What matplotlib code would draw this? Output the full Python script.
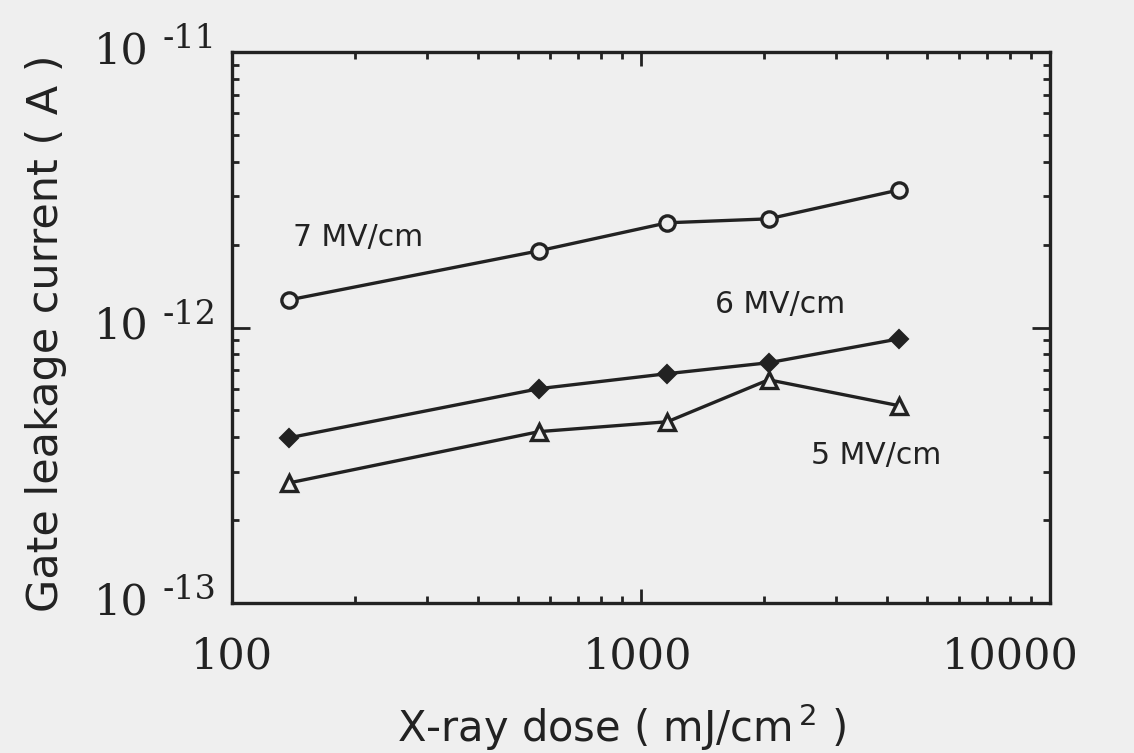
import matplotlib
matplotlib.use('Agg')
import matplotlib.pyplot as plt
import matplotlib.transforms as mtransforms
from matplotlib.ticker import LogLocator, NullFormatter


# values
dose = [138, 564, 1160, 2050, 4280]
i_7mv = [1.26e-12, 1.90e-12, 2.40e-12, 2.48e-12, 3.16e-12]
i_6mv = [3.98e-13, 6.0e-13, 6.8e-13, 7.45e-13, 9.1e-13]
i_5mv = [2.73e-13, 4.19e-13, 4.55e-13, 6.46e-13, 5.20e-13]

x_ticks = [100, 1000, 10000]
x_tick_labels = ['100', '1000', '10000']
y_ticks = [1e-11, 1e-12, 1e-13]
y_exponents = ['-11', '-12', '-13']

BG = '#efefef'
INK = '#222222'

fig = plt.figure(figsize=(11.34, 7.53), dpi=100, facecolor=BG)
ax = fig.add_axes([0.2046, 0.1992, 0.7214, 0.7317], facecolor=BG)

ax.plot(dose, i_7mv, '-o', color=INK, lw=2.4, ms=11, mfc=BG, mew=2.4)
ax.plot(dose, i_6mv, '-D', color=INK, lw=2.4, ms=9.5, mfc=INK, mew=1.5)
ax.plot(dose, i_5mv, '-^', color=INK, lw=2.4, ms=11.5, mfc=BG, mew=2.4)

ax.set_xscale('log')
ax.set_yscale('log')
ax.set_xlim(100, 10000)
ax.set_ylim(1e-13, 1e-11)

for s in ax.spines.values():
    s.set_linewidth(2.4)
    s.set_color(INK)

ax.xaxis.set_major_locator(LogLocator(base=10))
ax.xaxis.set_minor_locator(LogLocator(base=10, subs=range(2, 10)))
ax.yaxis.set_major_locator(LogLocator(base=10))
ax.yaxis.set_minor_locator(LogLocator(base=10, subs=range(2, 10)))
ax.xaxis.set_major_formatter(NullFormatter())
ax.xaxis.set_minor_formatter(NullFormatter())
ax.yaxis.set_major_formatter(NullFormatter())
ax.yaxis.set_minor_formatter(NullFormatter())

ax.tick_params(which='both', direction='in', top=True, right=True, color=INK, width=2)
ax.tick_params(axis='x', which='major', length=10)
ax.tick_params(axis='y', which='major', length=13)
ax.tick_params(which='minor', length=5)

# tick labels drawn by hand to copy the "10 -11" look
serif = 'DejaVu Serif'
xoffs = [0, -4, -40]
for v, lab, dx in zip(x_ticks, x_tick_labels, xoffs):
    tr = mtransforms.blended_transform_factory(ax.transData, ax.transAxes)
    tr = tr + mtransforms.ScaledTranslation(dx / 100, 0, fig.dpi_scale_trans)
    ax.text(v, -0.118, lab, transform=tr, ha='center', va='baseline',
            fontsize=31, family=serif, color=INK, clip_on=False)

ytr = mtransforms.blended_transform_factory(ax.transAxes, ax.transData)
for v, ex in zip(y_ticks, y_exponents):
    t1 = ytr + mtransforms.ScaledTranslation(0, -11 / 100, fig.dpi_scale_trans)
    ax.text(-0.1027, v, '10', transform=t1, ha='right', va='baseline',
            fontsize=31, family=serif, color=INK, clip_on=False)
    t2 = ytr + mtransforms.ScaledTranslation(0, 4 / 100, fig.dpi_scale_trans)
    ax.text(-0.0844, v, ex, transform=t2, ha='left', va='baseline',
            fontsize=24, family=serif, color=INK, clip_on=False)

ax.text(0.0746, 0.648, '7 MV/cm', transform=ax.transAxes, fontsize=21.5,
        color=INK, ha='left', va='baseline')
ax.text(0.590, 0.527, '6 MV/cm', transform=ax.transAxes, fontsize=21.5,
        color=INK, ha='left', va='baseline')
ax.text(0.708, 0.253, '5 MV/cm', transform=ax.transAxes, fontsize=21.5,
        color=INK, ha='left', va='baseline')

plt.rcParams['mathtext.fontset'] = 'dejavusans'
fig.text(0.041, 0.557, 'Gate leakage current ( A )', rotation=90,
         ha='center', va='center', fontsize=31, color=INK)
fig.text(0.548, 0.0146, r'X-ray dose ( mJ/cm$^{\,2}$ )', ha='center',
         va='baseline', fontsize=30, color=INK)

plt.savefig('out.png', dpi=100, facecolor=BG)
plt.close()
